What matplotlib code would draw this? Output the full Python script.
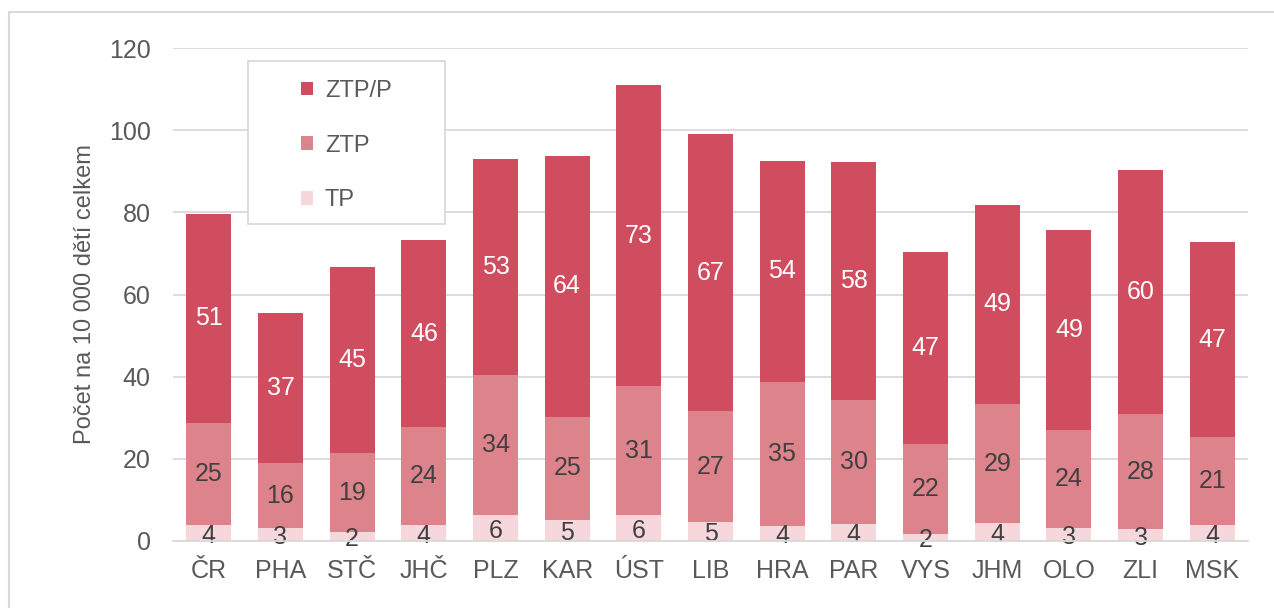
import matplotlib.pyplot as plt
import matplotlib.patches as mpatches
import numpy as np

plt.rcParams['font.family'] = ['Liberation Sans', 'DejaVu Sans']

kraje = ['ČR', 'PHA', 'STČ', 'JHČ', 'PLZ', 'KAR', 'ÚST', 'LIB',
         'HRA', 'PAR', 'VYS', 'JHM', 'OLO', 'ZLI', 'MSK']
tp = [3.8, 3.1, 2.1, 3.9, 6.3, 5.2, 6.3, 4.6, 3.7, 4.1, 1.8, 4.4, 3.1, 2.9, 4.0]
ztp = [24.9, 15.9, 19.4, 23.8, 34.2, 25.0, 31.4, 27.0, 34.9, 30.3, 21.8, 28.9,
       23.8, 27.9, 21.3]
ztpp = [51.0, 36.6, 45.1, 45.6, 52.6, 63.6, 73.3, 67.4, 54.0, 57.9, 46.8, 48.6,
        48.9, 59.6, 47.4]

c_tp = '#F5D7DC'
c_ztp = '#DD838C'
c_ztpp = '#D04C5F'
grid_c = '#D9D9D9'
txt_c = '#595959'

W, H = 1274, 608
fig = plt.figure(figsize=(W / 100, H / 100), dpi=100)
ax = fig.add_axes([173 / W, 1 - 541 / H, 1075 / W, 493 / H])

# outer frame
fig.patches.append(mpatches.Rectangle((9 / W, -0.1), 1.2, 1 - 12 / H + 0.1,
                                      transform=fig.transFigure, fill=False,
                                      edgecolor=grid_c, linewidth=1.5))

x = np.arange(len(kraje))
w = 0.63
b1 = ax.bar(x, tp, w, color=c_tp, label='TP', zorder=3)
b2 = ax.bar(x, ztp, w, bottom=tp, color=c_ztp, label='ZTP', zorder=3)
bot3 = np.array(tp) + np.array(ztp)
b3 = ax.bar(x, ztpp, w, bottom=bot3, color=c_ztpp, label='ZTP/P', zorder=3)

fs = 18
ax.bar_label(b1, labels=[f'{v:.0f}' for v in tp], label_type='center',
             color='#404040', fontsize=fs, padding=-2)
ax.bar_label(b2, labels=[f'{v:.0f}' for v in ztp], label_type='center',
             color='#404040', fontsize=fs)
ax.bar_label(b3, labels=[f'{v:.0f}' for v in ztpp], label_type='center',
             color='white', fontsize=fs)

ax.set_xlim(-0.5, len(kraje) - 0.5)
ax.set_ylim(0, 120)
ax.set_yticks(range(0, 121, 20))
ax.set_xticks(x)
ax.set_xticklabels(kraje)
ax.tick_params(axis='both', length=0, labelsize=fs, labelcolor=txt_c)
ax.tick_params(axis='x', pad=13)
ax.tick_params(axis='y', pad=16)
ax.yaxis.grid(True, color=grid_c, linewidth=1.3, zorder=0)
ax.set_axisbelow(True)
for s in ['top', 'right', 'left']:
    ax.spines[s].set_visible(False)
ax.spines['bottom'].set_color(grid_c)
ax.spines['bottom'].set_linewidth(1.3)
ax.spines['bottom'].set_zorder(4)

ax.set_ylabel('Počet na 10 000 dětí celkem', fontsize=17, color=txt_c, labelpad=9)

# legend box (fixed size as in the reference)
lx0, lx1 = (248 - 173) / 1075, (445 - 173) / 1075
ly0, ly1 = (541 - 224) / 493, (541 - 61) / 493
ax.add_patch(mpatches.Rectangle((lx0, ly0), lx1 - lx0, ly1 - ly0,
                                transform=ax.transAxes, facecolor='white',
                                edgecolor=grid_c, linewidth=1.3, zorder=5))
leg = ax.legend(handles=[b3, b2, b1], loc='upper left',
                bbox_to_anchor=((301 - 173) / 1075, (541 - 80) / 493),
                fontsize=17, frameon=False, handlelength=0.51, handleheight=0.51,
                labelspacing=1.38, borderpad=0, borderaxespad=0,
                handletextpad=0.5, labelcolor=txt_c)
leg.set_zorder(6)

fig.savefig('out.png', dpi=100)
